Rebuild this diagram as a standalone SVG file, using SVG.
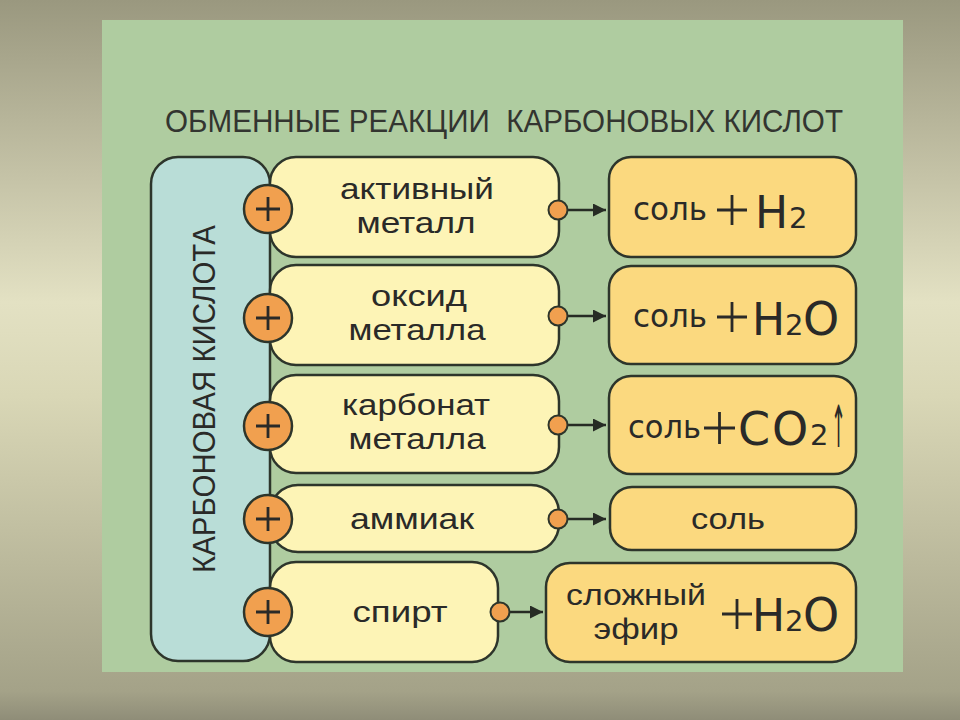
<svg xmlns="http://www.w3.org/2000/svg" width="960" height="720" viewBox="0 0 960 720">
<defs>
<linearGradient id="bg" x1="0" y1="0" x2="0" y2="1">
<stop offset="0" stop-color="#9a987f"/>
<stop offset="0.42" stop-color="#e3e1c3"/>
<stop offset="0.55" stop-color="#d9d7b6"/>
<stop offset="0.96" stop-color="#a4a288"/>
<stop offset="1" stop-color="#8f8d78"/>
</linearGradient>
<marker id="ah" markerUnits="userSpaceOnUse" markerWidth="14" markerHeight="13" refX="13" refY="6.5" orient="auto">
<path d="M0,0 L13,6.5 L0,13 z" fill="#262b24"/>
</marker>
<style>
.st{stroke:#2d352b;stroke-width:2.5}
.acid{fill:#b9ddd7}
.reag{fill:#fdf4b6}
.prod{fill:#fbd97f}
.plus{fill:#f1a04f}
.dot{fill:#f1a04f;stroke:#2d352b;stroke-width:2}
.lbl{font-family:"Liberation Sans",Arial,sans-serif;font-size:30px;fill:#2a2a28;text-anchor:middle}
.f{font-family:"DejaVu Sans","Liberation Sans",sans-serif;fill:#2a2a28}
.big{font-size:44px}
.sub{font-size:29px}
.ob{font-size:46px}
.pl{stroke:#2a2a28;stroke-width:2.8}
.con{stroke:#262b24;stroke-width:2.5;fill:none}
</style>
</defs>
<rect x="0" y="0" width="960" height="720" fill="url(#bg)"/>
<rect x="102" y="20" width="801" height="652" fill="#afcca0"/>
<text x="165" y="132" xml:space="preserve" textLength="678" lengthAdjust="spacingAndGlyphs" style="font-family:'Liberation Sans',Arial,sans-serif;font-size:31px;fill:#333530">ОБМЕННЫЕ РЕАКЦИИ  КАРБОНОВЫХ КИСЛОТ</text>

<g id="acid">
<rect class="acid st" x="151" y="157" width="119" height="504" rx="27"/>
<text transform="translate(215,399) rotate(-90)" text-anchor="middle" textLength="348" lengthAdjust="spacingAndGlyphs" style="font-family:'Liberation Sans',Arial,sans-serif;font-size:31px;fill:#2a2a28">КАРБОНОВАЯ КИСЛОТА</text>
</g>

<g id="r1">
<rect class="reag st" x="270" y="157" width="289" height="100" rx="26"/>
<text class="lbl" x="417" y="199" textLength="154" lengthAdjust="spacingAndGlyphs">активный</text>
<text class="lbl" x="416" y="233" textLength="119" lengthAdjust="spacingAndGlyphs">металл</text>
</g>
<g id="r2">
<rect class="reag st" x="270" y="265" width="289" height="100" rx="26"/>
<text class="lbl" x="419" y="306" textLength="96" lengthAdjust="spacingAndGlyphs">оксид</text>
<text class="lbl" x="417" y="340" textLength="137" lengthAdjust="spacingAndGlyphs">металла</text>
</g>
<g id="r3">
<rect class="reag st" x="270" y="375" width="289" height="98" rx="26"/>
<text class="lbl" x="416" y="415" textLength="148" lengthAdjust="spacingAndGlyphs">карбонат</text>
<text class="lbl" x="417" y="449" textLength="137" lengthAdjust="spacingAndGlyphs">металла</text>
</g>
<g id="r4">
<rect class="reag st" x="270" y="485" width="289" height="67" rx="28"/>
<text class="lbl" x="412" y="529" textLength="124" lengthAdjust="spacingAndGlyphs">аммиак</text>
</g>
<g id="r5">
<rect class="reag st" x="270" y="562" width="228" height="100" rx="26"/>
<text class="lbl" x="400" y="622" textLength="95" lengthAdjust="spacingAndGlyphs">спирт</text>
</g>

<g id="plus">
<g id="p1"><circle class="plus st" cx="268" cy="209" r="24"/><path class="pl" d="M256,209 H280 M268,197 V221"/></g>
<g id="p2"><circle class="plus st" cx="268" cy="318" r="24"/><path class="pl" d="M256,318 H280 M268,306 V330"/></g>
<g id="p3"><circle class="plus st" cx="268" cy="426" r="24"/><path class="pl" d="M256,426 H280 M268,414 V438"/></g>
<g id="p4"><circle class="plus st" cx="268" cy="519" r="24"/><path class="pl" d="M256,519 H280 M268,507 V531"/></g>
<g id="p5"><circle class="plus st" cx="268" cy="612" r="24"/><path class="pl" d="M256,612 H280 M268,600 V624"/></g>
</g>

<g id="connectors">
<line class="con" x1="567" y1="210" x2="606" y2="210" marker-end="url(#ah)"/>
<line class="con" x1="567" y1="316" x2="606" y2="316" marker-end="url(#ah)"/>
<line class="con" x1="567" y1="425" x2="606" y2="425" marker-end="url(#ah)"/>
<line class="con" x1="567" y1="519" x2="606" y2="519" marker-end="url(#ah)"/>
<line class="con" x1="509" y1="612" x2="543" y2="612" marker-end="url(#ah)"/>
<circle class="dot" cx="558" cy="210" r="9.5"/>
<circle class="dot" cx="558" cy="316" r="9.5"/>
<circle class="dot" cx="558" cy="425" r="9.5"/>
<circle class="dot" cx="558" cy="519" r="9.5"/>
<circle class="dot" cx="500" cy="612" r="9.5"/>
</g>

<g id="o1">
<rect class="prod st" x="609" y="157" width="247" height="100" rx="22"/>
<text class="f" x="633" y="220" font-size="32" textLength="74" lengthAdjust="spacingAndGlyphs">соль</text>
<path class="pl" d="M717,210 H747 M732,195 V225"/>
<text class="f" y="228"><tspan class="big" x="755">H</tspan><tspan class="sub" x="789">2</tspan></text>
</g>
<g id="o2">
<rect class="prod st" x="609" y="266" width="247" height="98" rx="22"/>
<text class="f" x="633" y="327" font-size="32" textLength="74" lengthAdjust="spacingAndGlyphs">соль</text>
<path class="pl" d="M717,317 H747 M732,302 V332"/>
<text class="f" y="335"><tspan class="big" x="752">H</tspan><tspan class="sub" x="785">2</tspan><tspan class="ob" x="803">O</tspan></text>
</g>
<g id="o3">
<rect class="prod st" x="609" y="376" width="247" height="98" rx="22"/>
<text class="f" x="628" y="438" font-size="32" textLength="73" lengthAdjust="spacingAndGlyphs">соль</text>
<path class="pl" d="M704,428 H735 M719.5,412 V444"/>
<text class="f" y="445"><tspan class="ob" x="738">C</tspan><tspan class="ob" x="772">O</tspan><tspan class="sub" x="810">2</tspan></text>
<text class="f" x="831" y="447" font-size="58" textLength="15" lengthAdjust="spacingAndGlyphs">↑</text>
</g>
<g id="o4">
<rect class="prod st" x="610" y="487" width="246" height="63" rx="22"/>
<text class="lbl" x="728" y="529" font-size="32" textLength="74" lengthAdjust="spacingAndGlyphs">соль</text>
</g>
<g id="o5">
<rect class="prod st" x="546" y="563" width="310" height="99" rx="24"/>
<text class="lbl" x="636" y="605" textLength="140" lengthAdjust="spacingAndGlyphs">сложный</text>
<text class="lbl" x="636" y="639" textLength="85" lengthAdjust="spacingAndGlyphs">эфир</text>
<path class="pl" d="M722,614 H752 M737,599 V629"/>
<text class="f" y="631"><tspan class="big" x="752">H</tspan><tspan class="sub" x="785">2</tspan><tspan class="ob" x="803">O</tspan></text>
</g>
</svg>
